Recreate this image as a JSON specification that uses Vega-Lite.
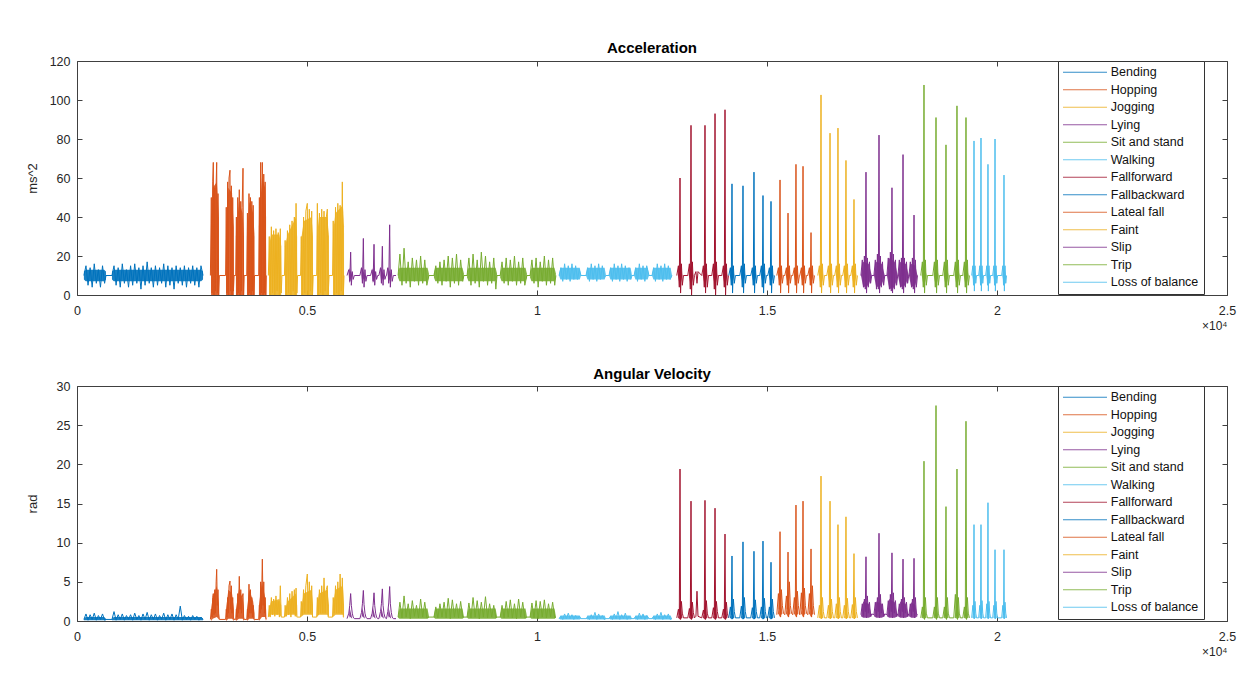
{
  "$schema": "https://vega.github.io/schema/vega-lite/v6.json",
  "background": "white",
  "padding": {"left": 25, "top": 40, "right": 5, "bottom": 5},
  "spacing": 91,
  "bounds": "flush",
  "datasets": {"env": [
    {"c":"Bending","g":"b1","x":150,"lo":8,"hi":12,"wlo":0.1,"whi":0.3},{"c":"Bending","g":"b1","x":190,"lo":7,"hi":13,"wlo":0.1,"whi":0.5},{"c":"Bending","g":"b1","x":590,"lo":7,"hi":13,"wlo":0.1,"whi":0.5},{"c":"Bending","g":"b1","x":630,"lo":8,"hi":12,"wlo":0.1,"whi":0.3},
    {"c":"Bending","g":"b2","x":760,"lo":8,"hi":12,"wlo":0.1,"whi":0.3},{"c":"Bending","g":"b2","x":800,"lo":7,"hi":13,"wlo":0.1,"whi":0.5},{"c":"Bending","g":"b2","x":2700,"lo":7,"hi":13,"wlo":0.1,"whi":0.5},{"c":"Bending","g":"b2","x":2740,"lo":8,"hi":12,"wlo":0.1,"whi":0.3},
    {"c":"Hopping","g":"h1","x":2915,"lo":0,"hi":30,"wlo":0,"whi":1.5},{"c":"Hopping","g":"h1","x":2950,"lo":0,"hi":55,"wlo":0.3,"whi":3},{"c":"Hopping","g":"h1","x":3040,"lo":0,"hi":58,"wlo":0.5,"whi":4.5},{"c":"Hopping","g":"h1","x":3085,"lo":0,"hi":40,"wlo":0.2,"whi":2},
    {"c":"Hopping","g":"h2","x":3240,"lo":0,"hi":30,"wlo":0,"whi":1.5},{"c":"Hopping","g":"h2","x":3290,"lo":0,"hi":55,"wlo":0.3,"whi":4},{"c":"Hopping","g":"h2","x":3370,"lo":0,"hi":52,"wlo":0.3,"whi":3.5},{"c":"Hopping","g":"h2","x":3410,"lo":0,"hi":35,"wlo":0,"whi":1.5},
    {"c":"Hopping","g":"h3","x":3455,"lo":0,"hi":30,"wlo":0,"whi":1.5},{"c":"Hopping","g":"h3","x":3520,"lo":0,"hi":48,"wlo":0.3,"whi":4},{"c":"Hopping","g":"h3","x":3600,"lo":0,"hi":42,"wlo":0.3,"whi":3},{"c":"Hopping","g":"h3","x":3630,"lo":0,"hi":30,"wlo":0,"whi":1.5},
    {"c":"Hopping","g":"h4","x":3695,"lo":0,"hi":30,"wlo":0,"whi":1.5},{"c":"Hopping","g":"h4","x":3745,"lo":0,"hi":48,"wlo":0.3,"whi":4},{"c":"Hopping","g":"h4","x":3830,"lo":0,"hi":42,"wlo":0.3,"whi":2.5},{"c":"Hopping","g":"h4","x":3860,"lo":0,"hi":30,"wlo":0,"whi":1},
    {"c":"Hopping","g":"h5","x":3955,"lo":0,"hi":35,"wlo":0,"whi":2},{"c":"Hopping","g":"h5","x":4020,"lo":0,"hi":60,"wlo":0.5,"whi":5},{"c":"Hopping","g":"h5","x":4090,"lo":0,"hi":55,"wlo":0.5,"whi":3},{"c":"Hopping","g":"h5","x":4110,"lo":0,"hi":40,"wlo":0,"whi":1.5},
    {"c":"Jogging","g":"j1","x":4175,"lo":0,"hi":25,"wlo":0.5,"whi":1.5},{"c":"Jogging","g":"j1","x":4220,"lo":0,"hi":31,"wlo":0.8,"whi":2.5},{"c":"Jogging","g":"j1","x":4400,"lo":0,"hi":31,"wlo":0.8,"whi":2.8},{"c":"Jogging","g":"j1","x":4440,"lo":0,"hi":25,"wlo":0.5,"whi":2},
    {"c":"Jogging","g":"j2","x":4522,"lo":0,"hi":25,"wlo":0.5,"whi":1.5},{"c":"Jogging","g":"j2","x":4580,"lo":0,"hi":31,"wlo":0.8,"whi":2.5},{"c":"Jogging","g":"j2","x":4760,"lo":0,"hi":40,"wlo":0.8,"whi":3.5},{"c":"Jogging","g":"j2","x":4785,"lo":0,"hi":30,"wlo":0.5,"whi":2},
    {"c":"Jogging","g":"j3","x":4870,"lo":0,"hi":28,"wlo":0.5,"whi":1.5},{"c":"Jogging","g":"j3","x":4930,"lo":0,"hi":38,"wlo":0.8,"whi":3.5},{"c":"Jogging","g":"j3","x":5100,"lo":0,"hi":40,"wlo":0.8,"whi":4},{"c":"Jogging","g":"j3","x":5130,"lo":0,"hi":30,"wlo":0.5,"whi":2},
    {"c":"Jogging","g":"j4","x":5217,"lo":0,"hi":30,"wlo":0.5,"whi":2},{"c":"Jogging","g":"j4","x":5260,"lo":0,"hi":40,"wlo":0.8,"whi":3.5},{"c":"Jogging","g":"j4","x":5440,"lo":0,"hi":40,"wlo":0.8,"whi":4},{"c":"Jogging","g":"j4","x":5478,"lo":0,"hi":30,"wlo":0.5,"whi":2},
    {"c":"Jogging","g":"j5","x":5565,"lo":0,"hi":32,"wlo":0.5,"whi":2},{"c":"Jogging","g":"j5","x":5620,"lo":0,"hi":42,"wlo":0.8,"whi":4},{"c":"Jogging","g":"j5","x":5780,"lo":0,"hi":46,"wlo":0.8,"whi":4.5},{"c":"Jogging","g":"j5","x":5805,"lo":0,"hi":35,"wlo":0.5,"whi":2},
    {"c":"Lying","g":"y1","x":5914,"lo":10,"hi":10,"wlo":0.3,"whi":0.3},{"c":"Lying","g":"y1","x":5924,"lo":6,"hi":14,"wlo":0.6,"whi":1.8},{"c":"Lying","g":"y1","x":5984,"lo":10,"hi":10,"wlo":0.3,"whi":0.3},
    {"c":"Lying","g":"y2","x":6190,"lo":10,"hi":10,"wlo":0.3,"whi":0.3},{"c":"Lying","g":"y2","x":6200,"lo":6,"hi":14,"wlo":0.6,"whi":1.8},{"c":"Lying","g":"y2","x":6260,"lo":10,"hi":10,"wlo":0.3,"whi":0.3},
    {"c":"Lying","g":"y3","x":6422,"lo":10,"hi":10,"wlo":0.3,"whi":0.3},{"c":"Lying","g":"y3","x":6432,"lo":6,"hi":14,"wlo":0.6,"whi":1.8},{"c":"Lying","g":"y3","x":6492,"lo":10,"hi":10,"wlo":0.3,"whi":0.3},
    {"c":"Lying","g":"y4","x":6603,"lo":10,"hi":10,"wlo":0.3,"whi":0.3},{"c":"Lying","g":"y4","x":6613,"lo":6,"hi":14,"wlo":0.6,"whi":1.8},{"c":"Lying","g":"y4","x":6673,"lo":10,"hi":10,"wlo":0.3,"whi":0.3},
    {"c":"Lying","g":"y5","x":6762,"lo":10,"hi":10,"wlo":0.3,"whi":0.3},{"c":"Lying","g":"y5","x":6772,"lo":6,"hi":14,"wlo":0.6,"whi":1.8},{"c":"Lying","g":"y5","x":6832,"lo":10,"hi":10,"wlo":0.3,"whi":0.3},
    {"c":"Sit and stand","g":"s1","x":6980,"lo":9,"hi":11,"wlo":0.4,"whi":0.6},{"c":"Sit and stand","g":"s1","x":7010,"lo":7,"hi":14,"wlo":0.3,"whi":1.6},{"c":"Sit and stand","g":"s1","x":7620,"lo":7,"hi":14,"wlo":0.3,"whi":1.6},{"c":"Sit and stand","g":"s1","x":7650,"lo":9,"hi":11,"wlo":0.4,"whi":0.6},
    {"c":"Sit and stand","g":"s2","x":7760,"lo":9,"hi":11,"wlo":0.4,"whi":0.6},{"c":"Sit and stand","g":"s2","x":7790,"lo":7,"hi":14,"wlo":0.3,"whi":1.6},{"c":"Sit and stand","g":"s2","x":8380,"lo":7,"hi":14,"wlo":0.3,"whi":1.6},{"c":"Sit and stand","g":"s2","x":8410,"lo":9,"hi":11,"wlo":0.4,"whi":0.6},
    {"c":"Sit and stand","g":"s3","x":8480,"lo":9,"hi":11,"wlo":0.4,"whi":0.6},{"c":"Sit and stand","g":"s3","x":8510,"lo":7,"hi":14,"wlo":0.3,"whi":1.6},{"c":"Sit and stand","g":"s3","x":9100,"lo":7,"hi":14,"wlo":0.3,"whi":1.6},{"c":"Sit and stand","g":"s3","x":9130,"lo":9,"hi":11,"wlo":0.4,"whi":0.6},
    {"c":"Sit and stand","g":"s4","x":9200,"lo":9,"hi":11,"wlo":0.4,"whi":0.6},{"c":"Sit and stand","g":"s4","x":9230,"lo":7,"hi":14,"wlo":0.3,"whi":1.6},{"c":"Sit and stand","g":"s4","x":9750,"lo":7,"hi":14,"wlo":0.3,"whi":1.6},{"c":"Sit and stand","g":"s4","x":9780,"lo":9,"hi":11,"wlo":0.4,"whi":0.6},
    {"c":"Sit and stand","g":"s5","x":9850,"lo":9,"hi":11,"wlo":0.4,"whi":0.6},{"c":"Sit and stand","g":"s5","x":9880,"lo":7,"hi":14,"wlo":0.3,"whi":1.6},{"c":"Sit and stand","g":"s5","x":10380,"lo":7,"hi":14,"wlo":0.3,"whi":1.6},{"c":"Sit and stand","g":"s5","x":10410,"lo":9,"hi":11,"wlo":0.4,"whi":0.6},
    {"c":"Walking","g":"w1","x":10478,"lo":10,"hi":10,"wlo":0.3,"whi":0.3},{"c":"Walking","g":"w1","x":10510,"lo":8,"hi":14,"wlo":0.2,"whi":0.7},{"c":"Walking","g":"w1","x":10930,"lo":8,"hi":14,"wlo":0.2,"whi":0.7},{"c":"Walking","g":"w1","x":10957,"lo":10,"hi":10,"wlo":0.3,"whi":0.3},
    {"c":"Walking","g":"w2","x":11065,"lo":10,"hi":10,"wlo":0.3,"whi":0.3},{"c":"Walking","g":"w2","x":11095,"lo":8,"hi":14,"wlo":0.2,"whi":0.7},{"c":"Walking","g":"w2","x":11470,"lo":8,"hi":14,"wlo":0.2,"whi":0.7},{"c":"Walking","g":"w2","x":11500,"lo":10,"hi":10,"wlo":0.3,"whi":0.3},
    {"c":"Walking","g":"w3","x":11565,"lo":10,"hi":10,"wlo":0.3,"whi":0.3},{"c":"Walking","g":"w3","x":11595,"lo":8,"hi":14,"wlo":0.2,"whi":0.7},{"c":"Walking","g":"w3","x":12035,"lo":8,"hi":14,"wlo":0.2,"whi":0.7},{"c":"Walking","g":"w3","x":12065,"lo":10,"hi":10,"wlo":0.3,"whi":0.3},
    {"c":"Walking","g":"w4","x":12110,"lo":10,"hi":10,"wlo":0.3,"whi":0.3},{"c":"Walking","g":"w4","x":12140,"lo":8,"hi":14,"wlo":0.2,"whi":0.7},{"c":"Walking","g":"w4","x":12405,"lo":8,"hi":14,"wlo":0.2,"whi":0.7},{"c":"Walking","g":"w4","x":12435,"lo":10,"hi":10,"wlo":0.3,"whi":0.3},
    {"c":"Walking","g":"w5","x":12500,"lo":10,"hi":10,"wlo":0.3,"whi":0.3},{"c":"Walking","g":"w5","x":12530,"lo":8,"hi":14,"wlo":0.2,"whi":0.7},{"c":"Walking","g":"w5","x":12905,"lo":8,"hi":14,"wlo":0.2,"whi":0.7},{"c":"Walking","g":"w5","x":12935,"lo":10,"hi":10,"wlo":0.3,"whi":0.3},
    {"c":"Fallforward","g":"f1","x":13064,"lo":10,"hi":10,"wlo":0.4,"whi":0.4},{"c":"Fallforward","g":"f1","x":13109,"lo":4,"hi":16,"wlo":0.2,"whi":2.5},{"c":"Fallforward","g":"f1","x":13159,"lo":10,"hi":10,"wlo":0.4,"whi":0.4},
    {"c":"Fallforward","g":"f2","x":13303,"lo":10,"hi":10,"wlo":0.4,"whi":0.4},{"c":"Fallforward","g":"f2","x":13348,"lo":4,"hi":16,"wlo":0.2,"whi":2.5},{"c":"Fallforward","g":"f2","x":13398,"lo":10,"hi":10,"wlo":0.4,"whi":0.4},
    {"c":"Fallforward","g":"f3","x":13607,"lo":10,"hi":10,"wlo":0.4,"whi":0.4},{"c":"Fallforward","g":"f3","x":13652,"lo":4,"hi":16,"wlo":0.2,"whi":2.5},{"c":"Fallforward","g":"f3","x":13702,"lo":10,"hi":10,"wlo":0.4,"whi":0.4},
    {"c":"Fallforward","g":"f4","x":13825,"lo":10,"hi":10,"wlo":0.4,"whi":0.4},{"c":"Fallforward","g":"f4","x":13870,"lo":4,"hi":16,"wlo":0.2,"whi":2.5},{"c":"Fallforward","g":"f4","x":13920,"lo":10,"hi":10,"wlo":0.4,"whi":0.4},
    {"c":"Fallforward","g":"f5","x":14042,"lo":10,"hi":10,"wlo":0.4,"whi":0.4},{"c":"Fallforward","g":"f5","x":14087,"lo":4,"hi":16,"wlo":0.2,"whi":2.5},{"c":"Fallforward","g":"f5","x":14137,"lo":10,"hi":10,"wlo":0.4,"whi":0.4},
    {"c":"Fallbackward","g":"k1","x":14194,"lo":10,"hi":10,"wlo":0.4,"whi":0.4},{"c":"Fallbackward","g":"k1","x":14239,"lo":5,"hi":15,"wlo":0.2,"whi":2.5},{"c":"Fallbackward","g":"k1","x":14289,"lo":10,"hi":10,"wlo":0.4,"whi":0.4},
    {"c":"Fallbackward","g":"k2","x":14433,"lo":10,"hi":10,"wlo":0.4,"whi":0.4},{"c":"Fallbackward","g":"k2","x":14478,"lo":5,"hi":15,"wlo":0.2,"whi":2.5},{"c":"Fallbackward","g":"k2","x":14528,"lo":10,"hi":10,"wlo":0.4,"whi":0.4},
    {"c":"Fallbackward","g":"k3","x":14672,"lo":10,"hi":10,"wlo":0.4,"whi":0.4},{"c":"Fallbackward","g":"k3","x":14717,"lo":5,"hi":15,"wlo":0.2,"whi":2.5},{"c":"Fallbackward","g":"k3","x":14767,"lo":10,"hi":10,"wlo":0.4,"whi":0.4},
    {"c":"Fallbackward","g":"k4","x":14868,"lo":10,"hi":10,"wlo":0.4,"whi":0.4},{"c":"Fallbackward","g":"k4","x":14913,"lo":5,"hi":15,"wlo":0.2,"whi":2.5},{"c":"Fallbackward","g":"k4","x":14963,"lo":10,"hi":10,"wlo":0.4,"whi":0.4},
    {"c":"Fallbackward","g":"k5","x":15042,"lo":10,"hi":10,"wlo":0.4,"whi":0.4},{"c":"Fallbackward","g":"k5","x":15087,"lo":5,"hi":15,"wlo":0.2,"whi":2.5},{"c":"Fallbackward","g":"k5","x":15137,"lo":10,"hi":10,"wlo":0.4,"whi":0.4},
    {"c":"Lateal fall","g":"l1","x":15238,"lo":10,"hi":10,"wlo":1.0,"whi":1.0},{"c":"Lateal fall","g":"l1","x":15283,"lo":5,"hi":15,"wlo":0.5,"whi":4},{"c":"Lateal fall","g":"l1","x":15333,"lo":10,"hi":10,"wlo":1.0,"whi":1.0},
    {"c":"Lateal fall","g":"l2","x":15412,"lo":10,"hi":10,"wlo":1.0,"whi":1.0},{"c":"Lateal fall","g":"l2","x":15457,"lo":5,"hi":15,"wlo":0.5,"whi":4},{"c":"Lateal fall","g":"l2","x":15507,"lo":10,"hi":10,"wlo":1.0,"whi":1.0},
    {"c":"Lateal fall","g":"l3","x":15585,"lo":10,"hi":10,"wlo":1.0,"whi":1.0},{"c":"Lateal fall","g":"l3","x":15630,"lo":5,"hi":15,"wlo":0.5,"whi":4},{"c":"Lateal fall","g":"l3","x":15680,"lo":10,"hi":10,"wlo":1.0,"whi":1.0},
    {"c":"Lateal fall","g":"l4","x":15738,"lo":10,"hi":10,"wlo":1.0,"whi":1.0},{"c":"Lateal fall","g":"l4","x":15783,"lo":5,"hi":15,"wlo":0.5,"whi":4},{"c":"Lateal fall","g":"l4","x":15833,"lo":10,"hi":10,"wlo":1.0,"whi":1.0},
    {"c":"Lateal fall","g":"l5","x":15912,"lo":10,"hi":10,"wlo":1.0,"whi":1.0},{"c":"Lateal fall","g":"l5","x":15957,"lo":5,"hi":15,"wlo":0.5,"whi":4},{"c":"Lateal fall","g":"l5","x":16007,"lo":10,"hi":10,"wlo":1.0,"whi":1.0},
    {"c":"Faint","g":"n1","x":16129,"lo":10,"hi":10,"wlo":0.4,"whi":0.4},{"c":"Faint","g":"n1","x":16174,"lo":4,"hi":16,"wlo":0.3,"whi":2.5},{"c":"Faint","g":"n1","x":16224,"lo":10,"hi":10,"wlo":0.4,"whi":0.4},
    {"c":"Faint","g":"n2","x":16325,"lo":10,"hi":10,"wlo":0.4,"whi":0.4},{"c":"Faint","g":"n2","x":16370,"lo":4,"hi":16,"wlo":0.3,"whi":2.5},{"c":"Faint","g":"n2","x":16420,"lo":10,"hi":10,"wlo":0.4,"whi":0.4},
    {"c":"Faint","g":"n3","x":16498,"lo":10,"hi":10,"wlo":0.4,"whi":0.4},{"c":"Faint","g":"n3","x":16543,"lo":4,"hi":16,"wlo":0.3,"whi":2.5},{"c":"Faint","g":"n3","x":16593,"lo":10,"hi":10,"wlo":0.4,"whi":0.4},
    {"c":"Faint","g":"n4","x":16672,"lo":10,"hi":10,"wlo":0.4,"whi":0.4},{"c":"Faint","g":"n4","x":16717,"lo":4,"hi":16,"wlo":0.3,"whi":2.5},{"c":"Faint","g":"n4","x":16767,"lo":10,"hi":10,"wlo":0.4,"whi":0.4},
    {"c":"Faint","g":"n5","x":16846,"lo":10,"hi":10,"wlo":0.4,"whi":0.4},{"c":"Faint","g":"n5","x":16891,"lo":4,"hi":16,"wlo":0.3,"whi":2.5},{"c":"Faint","g":"n5","x":16941,"lo":10,"hi":10,"wlo":0.4,"whi":0.4},
    {"c":"Slip","g":"p1","x":17042,"lo":10,"hi":10,"wlo":0.6,"whi":0.6},{"c":"Slip","g":"p1","x":17092,"lo":4,"hi":17,"wlo":0.4,"whi":2.5},{"c":"Slip","g":"p1","x":17212,"lo":5,"hi":16,"wlo":0.4,"whi":2.2},{"c":"Slip","g":"p1","x":17277,"lo":10,"hi":10,"wlo":0.6,"whi":0.6},
    {"c":"Slip","g":"p2","x":17325,"lo":10,"hi":10,"wlo":0.6,"whi":0.6},{"c":"Slip","g":"p2","x":17375,"lo":4,"hi":17,"wlo":0.4,"whi":2.5},{"c":"Slip","g":"p2","x":17495,"lo":5,"hi":16,"wlo":0.4,"whi":2.2},{"c":"Slip","g":"p2","x":17560,"lo":10,"hi":10,"wlo":0.6,"whi":0.6},
    {"c":"Slip","g":"p3","x":17607,"lo":10,"hi":10,"wlo":0.6,"whi":0.6},{"c":"Slip","g":"p3","x":17657,"lo":3,"hi":19,"wlo":0.4,"whi":2.8},{"c":"Slip","g":"p3","x":17777,"lo":4,"hi":17,"wlo":0.4,"whi":2.4},{"c":"Slip","g":"p3","x":17842,"lo":10,"hi":10,"wlo":0.6,"whi":0.6},
    {"c":"Slip","g":"p4","x":17847,"lo":10,"hi":10,"wlo":0.6,"whi":0.6},{"c":"Slip","g":"p4","x":17897,"lo":4,"hi":17,"wlo":0.4,"whi":2.5},{"c":"Slip","g":"p4","x":18017,"lo":5,"hi":16,"wlo":0.4,"whi":2.2},{"c":"Slip","g":"p4","x":18082,"lo":10,"hi":10,"wlo":0.6,"whi":0.6},
    {"c":"Slip","g":"p5","x":18086,"lo":10,"hi":10,"wlo":0.6,"whi":0.6},{"c":"Slip","g":"p5","x":18136,"lo":4,"hi":16,"wlo":0.4,"whi":2.4},{"c":"Slip","g":"p5","x":18226,"lo":5,"hi":15,"wlo":0.4,"whi":2.0},{"c":"Slip","g":"p5","x":18271,"lo":10,"hi":10,"wlo":0.6,"whi":0.6},
    {"c":"Trip","g":"t1","x":18363,"lo":10,"hi":10,"wlo":0.4,"whi":0.4},{"c":"Trip","g":"t1","x":18413,"lo":4,"hi":17,"wlo":0.3,"whi":2.8},{"c":"Trip","g":"t1","x":18468,"lo":10,"hi":10,"wlo":0.4,"whi":0.4},
    {"c":"Trip","g":"t2","x":18624,"lo":10,"hi":10,"wlo":0.4,"whi":0.4},{"c":"Trip","g":"t2","x":18674,"lo":4,"hi":17,"wlo":0.3,"whi":2.8},{"c":"Trip","g":"t2","x":18729,"lo":10,"hi":10,"wlo":0.4,"whi":0.4},
    {"c":"Trip","g":"t3","x":18841,"lo":10,"hi":10,"wlo":0.4,"whi":0.4},{"c":"Trip","g":"t3","x":18891,"lo":4,"hi":17,"wlo":0.3,"whi":2.8},{"c":"Trip","g":"t3","x":18946,"lo":10,"hi":10,"wlo":0.4,"whi":0.4},
    {"c":"Trip","g":"t4","x":19080,"lo":10,"hi":10,"wlo":0.4,"whi":0.4},{"c":"Trip","g":"t4","x":19130,"lo":4,"hi":17,"wlo":0.3,"whi":3.4},{"c":"Trip","g":"t4","x":19185,"lo":10,"hi":10,"wlo":0.4,"whi":0.4},
    {"c":"Trip","g":"t5","x":19276,"lo":10,"hi":10,"wlo":0.4,"whi":0.4},{"c":"Trip","g":"t5","x":19326,"lo":4,"hi":17,"wlo":0.3,"whi":2.8},{"c":"Trip","g":"t5","x":19381,"lo":10,"hi":10,"wlo":0.4,"whi":0.4},
    {"c":"Loss of balance","g":"o1","x":19465,"lo":10,"hi":10,"wlo":0.4,"whi":0.4},{"c":"Loss of balance","g":"o1","x":19500,"lo":5,"hi":15,"wlo":0.3,"whi":2.2},{"c":"Loss of balance","g":"o1","x":19540,"lo":10,"hi":10,"wlo":0.4,"whi":0.4},
    {"c":"Loss of balance","g":"o2","x":19617,"lo":10,"hi":10,"wlo":0.4,"whi":0.4},{"c":"Loss of balance","g":"o2","x":19652,"lo":5,"hi":15,"wlo":0.3,"whi":2.2},{"c":"Loss of balance","g":"o2","x":19692,"lo":10,"hi":10,"wlo":0.4,"whi":0.4},
    {"c":"Loss of balance","g":"o3","x":19769,"lo":10,"hi":10,"wlo":0.4,"whi":0.4},{"c":"Loss of balance","g":"o3","x":19804,"lo":5,"hi":15,"wlo":0.3,"whi":2.2},{"c":"Loss of balance","g":"o3","x":19844,"lo":10,"hi":10,"wlo":0.4,"whi":0.4},
    {"c":"Loss of balance","g":"o4","x":19922,"lo":10,"hi":10,"wlo":0.4,"whi":0.4},{"c":"Loss of balance","g":"o4","x":19957,"lo":5,"hi":15,"wlo":0.3,"whi":2.2},{"c":"Loss of balance","g":"o4","x":19997,"lo":10,"hi":10,"wlo":0.4,"whi":0.4},
    {"c":"Loss of balance","g":"o5","x":20117,"lo":10,"hi":10,"wlo":0.4,"whi":0.4},{"c":"Loss of balance","g":"o5","x":20152,"lo":5,"hi":15,"wlo":0.3,"whi":2.2},{"c":"Loss of balance","g":"o5","x":20192,"lo":10,"hi":10,"wlo":0.4,"whi":0.4}
  ]},
  "data": {"values": [
    {"c":"Bending","x":150,"a":10,"w":0.2},{"c":"Bending","x":195,"a":15,"w":0.9},{"c":"Bending","x":240,"a":5,"w":0.1},{"c":"Bending","x":285,"a":14,"w":0.8},{"c":"Bending","x":330,"a":4,"w":0.2},{"c":"Bending","x":375,"a":16,"w":1.0},{"c":"Bending","x":420,"a":6,"w":0.1},{"c":"Bending","x":465,"a":13,"w":0.7},{"c":"Bending","x":510,"a":4,"w":0.2},{"c":"Bending","x":555,"a":15,"w":0.9},{"c":"Bending","x":600,"a":6,"w":0.1},{"c":"Bending","x":630,"a":10,"w":0.2},
    {"c":"Bending","x":760,"a":10,"w":0.2},{"c":"Bending","x":805,"a":15,"w":1.2},{"c":"Bending","x":850,"a":5,"w":0.1},{"c":"Bending","x":895,"a":14,"w":0.8},{"c":"Bending","x":940,"a":4,"w":0.2},{"c":"Bending","x":985,"a":16,"w":0.9},{"c":"Bending","x":1030,"a":6,"w":0.1},{"c":"Bending","x":1075,"a":13,"w":0.7},{"c":"Bending","x":1120,"a":4,"w":0.2},{"c":"Bending","x":1165,"a":15,"w":0.8},{"c":"Bending","x":1210,"a":5,"w":0.1},{"c":"Bending","x":1255,"a":16,"w":1.0},{"c":"Bending","x":1300,"a":6,"w":0.2},{"c":"Bending","x":1345,"a":14,"w":0.7},{"c":"Bending","x":1390,"a":3,"w":0.1},{"c":"Bending","x":1435,"a":15,"w":0.9},{"c":"Bending","x":1480,"a":5,"w":0.2},{"c":"Bending","x":1525,"a":17,"w":1.1},{"c":"Bending","x":1570,"a":6,"w":0.1},{"c":"Bending","x":1615,"a":14,"w":0.8},{"c":"Bending","x":1660,"a":4,"w":0.2},{"c":"Bending","x":1705,"a":15,"w":0.9},{"c":"Bending","x":1750,"a":5,"w":0.1},{"c":"Bending","x":1795,"a":14,"w":0.7},{"c":"Bending","x":1840,"a":6,"w":0.2},{"c":"Bending","x":1885,"a":16,"w":1.0},{"c":"Bending","x":1930,"a":4,"w":0.1},{"c":"Bending","x":1975,"a":15,"w":0.8},{"c":"Bending","x":2020,"a":5,"w":0.2},{"c":"Bending","x":2065,"a":14,"w":0.9},{"c":"Bending","x":2110,"a":3,"w":0.1},{"c":"Bending","x":2155,"a":15,"w":0.8},{"c":"Bending","x":2200,"a":6,"w":0.2},{"c":"Bending","x":2245,"a":14,"w":1.9},{"c":"Bending","x":2290,"a":5,"w":0.1},{"c":"Bending","x":2335,"a":15,"w":0.7},{"c":"Bending","x":2380,"a":4,"w":0.2},{"c":"Bending","x":2425,"a":14,"w":0.6},{"c":"Bending","x":2470,"a":6,"w":0.1},{"c":"Bending","x":2515,"a":15,"w":0.7},{"c":"Bending","x":2560,"a":5,"w":0.2},{"c":"Bending","x":2605,"a":14,"w":0.6},{"c":"Bending","x":2650,"a":4,"w":0.1},{"c":"Bending","x":2695,"a":15,"w":0.5},{"c":"Bending","x":2740,"a":10,"w":0.2},

    {"c":"Hopping","x":2900,"a":10,"w":0.2},{"c":"Hopping","x":2920,"a":50,"w":1.5},{"c":"Hopping","x":2935,"a":1,"w":0.5},{"c":"Hopping","x":2950,"a":58,"w":3},{"c":"Hopping","x":2963,"a":68,"w":3.5},{"c":"Hopping","x":2978,"a":0,"w":0.8},{"c":"Hopping","x":2995,"a":55,"w":4},{"c":"Hopping","x":3010,"a":2,"w":1},{"c":"Hopping","x":3025,"a":57,"w":5},{"c":"Hopping","x":3037,"a":68,"w":6.6},{"c":"Hopping","x":3050,"a":1,"w":2},{"c":"Hopping","x":3065,"a":52,"w":4},{"c":"Hopping","x":3080,"a":0,"w":1},{"c":"Hopping","x":3095,"a":10,"w":0.2},
    {"c":"Hopping","x":3230,"a":10,"w":0.2},{"c":"Hopping","x":3245,"a":45,"w":1.5},{"c":"Hopping","x":3260,"a":1,"w":0.5},{"c":"Hopping","x":3275,"a":58,"w":3},{"c":"Hopping","x":3290,"a":0,"w":1},{"c":"Hopping","x":3305,"a":60,"w":4.5},{"c":"Hopping","x":3326,"a":64,"w":5.1},{"c":"Hopping","x":3340,"a":2,"w":1.5},{"c":"Hopping","x":3355,"a":56,"w":4.5},{"c":"Hopping","x":3370,"a":0,"w":1},{"c":"Hopping","x":3385,"a":50,"w":3},{"c":"Hopping","x":3400,"a":2,"w":0.5},{"c":"Hopping","x":3415,"a":10,"w":0.2},
    {"c":"Hopping","x":3450,"a":10,"w":0.2},{"c":"Hopping","x":3465,"a":40,"w":1.5},{"c":"Hopping","x":3480,"a":0,"w":0.5},{"c":"Hopping","x":3495,"a":50,"w":3.5},{"c":"Hopping","x":3510,"a":1,"w":1},{"c":"Hopping","x":3528,"a":54,"w":5.7},{"c":"Hopping","x":3545,"a":0,"w":1.5},{"c":"Hopping","x":3560,"a":48,"w":4},{"c":"Hopping","x":3575,"a":2,"w":1},{"c":"Hopping","x":3590,"a":45,"w":3},{"c":"Hopping","x":3609,"a":65,"w":3.5},{"c":"Hopping","x":3622,"a":0,"w":0.5},{"c":"Hopping","x":3635,"a":10,"w":0.2},
    {"c":"Hopping","x":3690,"a":10,"w":0.2},{"c":"Hopping","x":3705,"a":42,"w":1.5},{"c":"Hopping","x":3720,"a":0,"w":0.5},{"c":"Hopping","x":3739,"a":52,"w":4.7},{"c":"Hopping","x":3755,"a":1,"w":1},{"c":"Hopping","x":3770,"a":50,"w":4},{"c":"Hopping","x":3785,"a":0,"w":1},{"c":"Hopping","x":3800,"a":48,"w":3},{"c":"Hopping","x":3815,"a":2,"w":0.5},{"c":"Hopping","x":3830,"a":46,"w":2},{"c":"Hopping","x":3845,"a":0,"w":0.3},{"c":"Hopping","x":3860,"a":10,"w":0.2},
    {"c":"Hopping","x":3950,"a":10,"w":0.2},{"c":"Hopping","x":3965,"a":50,"w":2},{"c":"Hopping","x":3980,"a":0,"w":1},{"c":"Hopping","x":3993,"a":68,"w":5},{"c":"Hopping","x":4008,"a":1,"w":1.5},{"c":"Hopping","x":4029,"a":68,"w":7.9},{"c":"Hopping","x":4045,"a":0,"w":2},{"c":"Hopping","x":4060,"a":62,"w":5},{"c":"Hopping","x":4075,"a":1,"w":1},{"c":"Hopping","x":4090,"a":58,"w":3},{"c":"Hopping","x":4105,"a":0,"w":0.5},{"c":"Hopping","x":4115,"a":10,"w":0.2},

    {"c":"Jogging","x":4160,"a":10,"w":0.5},{"c":"Jogging","x":4180,"a":30,"w":2},{"c":"Jogging","x":4200,"a":0,"w":0.5},{"c":"Jogging","x":4225,"a":35,"w":3},{"c":"Jogging","x":4250,"a":1,"w":0.8},{"c":"Jogging","x":4275,"a":33,"w":2.8},{"c":"Jogging","x":4300,"a":0,"w":0.6},{"c":"Jogging","x":4325,"a":34,"w":3.2},{"c":"Jogging","x":4350,"a":2,"w":0.8},{"c":"Jogging","x":4375,"a":32,"w":2.5},{"c":"Jogging","x":4400,"a":0,"w":0.5},{"c":"Jogging","x":4420,"a":34,"w":4.5},{"c":"Jogging","x":4440,"a":1,"w":0.5},{"c":"Jogging","x":4455,"a":10,"w":0.5},
    {"c":"Jogging","x":4510,"a":10,"w":0.5},{"c":"Jogging","x":4525,"a":28,"w":2},{"c":"Jogging","x":4550,"a":0,"w":0.6},{"c":"Jogging","x":4575,"a":33,"w":3},{"c":"Jogging","x":4600,"a":1,"w":0.8},{"c":"Jogging","x":4625,"a":36,"w":3.5},{"c":"Jogging","x":4650,"a":0,"w":0.5},{"c":"Jogging","x":4675,"a":38,"w":3.8},{"c":"Jogging","x":4700,"a":2,"w":1},{"c":"Jogging","x":4725,"a":40,"w":4},{"c":"Jogging","x":4745,"a":0,"w":0.6},{"c":"Jogging","x":4762,"a":47,"w":4.2},{"c":"Jogging","x":4780,"a":1,"w":0.5},{"c":"Jogging","x":4795,"a":10,"w":0.5},
    {"c":"Jogging","x":4860,"a":10,"w":0.5},{"c":"Jogging","x":4875,"a":30,"w":2.5},{"c":"Jogging","x":4900,"a":0,"w":0.8},{"c":"Jogging","x":4925,"a":40,"w":4},{"c":"Jogging","x":4950,"a":1,"w":1},{"c":"Jogging","x":4975,"a":43,"w":4.5},{"c":"Jogging","x":5007,"a":47,"w":6},{"c":"Jogging","x":5025,"a":0,"w":1},{"c":"Jogging","x":5050,"a":44,"w":5},{"c":"Jogging","x":5075,"a":2,"w":1},{"c":"Jogging","x":5102,"a":43,"w":4.5},{"c":"Jogging","x":5120,"a":0,"w":0.5},{"c":"Jogging","x":5135,"a":10,"w":0.5},
    {"c":"Jogging","x":5210,"a":10,"w":0.5},{"c":"Jogging","x":5225,"a":47,"w":3},{"c":"Jogging","x":5245,"a":0,"w":0.8},{"c":"Jogging","x":5270,"a":42,"w":4},{"c":"Jogging","x":5295,"a":1,"w":1},{"c":"Jogging","x":5320,"a":44,"w":4.5},{"c":"Jogging","x":5345,"a":0,"w":1},{"c":"Jogging","x":5370,"a":43,"w":5.5},{"c":"Jogging","x":5395,"a":2,"w":1},{"c":"Jogging","x":5420,"a":40,"w":4},{"c":"Jogging","x":5442,"a":44,"w":4.5},{"c":"Jogging","x":5460,"a":0,"w":0.5},{"c":"Jogging","x":5480,"a":10,"w":0.5},
    {"c":"Jogging","x":5555,"a":10,"w":0.5},{"c":"Jogging","x":5570,"a":38,"w":3},{"c":"Jogging","x":5595,"a":0,"w":1},{"c":"Jogging","x":5620,"a":45,"w":4.5},{"c":"Jogging","x":5645,"a":1,"w":1},{"c":"Jogging","x":5670,"a":47,"w":5},{"c":"Jogging","x":5695,"a":0,"w":1},{"c":"Jogging","x":5720,"a":46,"w":6},{"c":"Jogging","x":5745,"a":2,"w":1},{"c":"Jogging","x":5768,"a":58,"w":5.5},{"c":"Jogging","x":5790,"a":0,"w":0.5},{"c":"Jogging","x":5805,"a":10,"w":0.5},

    {"c":"Lying","x":5870,"a":10,"w":0.3},{"c":"Lying","x":5909,"a":13,"w":1.0},{"c":"Lying","x":5929,"a":7,"w":2.0},{"c":"Lying","x":5949,"a":22,"w":3.5},{"c":"Lying","x":5964,"a":5,"w":2.0},{"c":"Lying","x":5984,"a":12,"w":1.0},{"c":"Lying","x":6004,"a":8,"w":0.5},{"c":"Lying","x":6029,"a":10,"w":0.3},
    {"c":"Lying","x":6150,"a":10,"w":0.3},{"c":"Lying","x":6185,"a":14,"w":1.1},{"c":"Lying","x":6205,"a":6,"w":2.2},{"c":"Lying","x":6225,"a":29,"w":3.9},{"c":"Lying","x":6240,"a":4,"w":2.1},{"c":"Lying","x":6260,"a":13,"w":1.0},{"c":"Lying","x":6280,"a":7,"w":0.5},{"c":"Lying","x":6305,"a":10,"w":0.3},
    {"c":"Lying","x":6382,"a":10,"w":0.3},{"c":"Lying","x":6417,"a":13,"w":1.0},{"c":"Lying","x":6437,"a":7,"w":2.0},{"c":"Lying","x":6457,"a":26,"w":3.6},{"c":"Lying","x":6472,"a":5,"w":2.0},{"c":"Lying","x":6492,"a":12,"w":1.0},{"c":"Lying","x":6512,"a":8,"w":0.5},{"c":"Lying","x":6537,"a":10,"w":0.3},
    {"c":"Lying","x":6563,"a":10,"w":0.3},{"c":"Lying","x":6598,"a":14,"w":1.2},{"c":"Lying","x":6618,"a":6,"w":2.2},{"c":"Lying","x":6638,"a":25,"w":4.1},{"c":"Lying","x":6653,"a":5,"w":2.0},{"c":"Lying","x":6673,"a":13,"w":1.0},{"c":"Lying","x":6693,"a":8,"w":0.5},{"c":"Lying","x":6718,"a":10,"w":0.3},
    {"c":"Lying","x":6728,"a":10,"w":0.3},{"c":"Lying","x":6757,"a":14,"w":1.2},{"c":"Lying","x":6777,"a":6,"w":2.3},{"c":"Lying","x":6797,"a":36,"w":4.4},{"c":"Lying","x":6812,"a":4,"w":2.2},{"c":"Lying","x":6832,"a":13,"w":1.1},{"c":"Lying","x":6852,"a":7,"w":0.5},{"c":"Lying","x":6877,"a":10,"w":0.3},{"c":"Lying","x":6935,"a":10,"w":0.3},

    {"c":"Sit and stand","x":6980,"a":10,"w":0.5},{"c":"Sit and stand","x":7020,"a":21,"w":2.4},{"c":"Sit and stand","x":7065,"a":5,"w":0.4},{"c":"Sit and stand","x":7110,"a":24,"w":3.2},{"c":"Sit and stand","x":7155,"a":6,"w":0.5},{"c":"Sit and stand","x":7200,"a":17,"w":2.2},{"c":"Sit and stand","x":7245,"a":4,"w":0.3},{"c":"Sit and stand","x":7290,"a":19,"w":2.6},{"c":"Sit and stand","x":7335,"a":7,"w":0.6},{"c":"Sit and stand","x":7380,"a":18,"w":2.0},{"c":"Sit and stand","x":7425,"a":5,"w":0.4},{"c":"Sit and stand","x":7470,"a":20,"w":2.8},{"c":"Sit and stand","x":7515,"a":6,"w":0.5},{"c":"Sit and stand","x":7560,"a":18,"w":2.4},{"c":"Sit and stand","x":7605,"a":5,"w":0.4},{"c":"Sit and stand","x":7650,"a":10,"w":0.5},
    {"c":"Sit and stand","x":7760,"a":10,"w":0.5},{"c":"Sit and stand","x":7800,"a":15,"w":1.8},{"c":"Sit and stand","x":7845,"a":6,"w":0.4},{"c":"Sit and stand","x":7890,"a":17,"w":2.2},{"c":"Sit and stand","x":7935,"a":5,"w":0.5},{"c":"Sit and stand","x":7980,"a":18,"w":2.4},{"c":"Sit and stand","x":8025,"a":7,"w":0.4},{"c":"Sit and stand","x":8070,"a":20,"w":2.9},{"c":"Sit and stand","x":8115,"a":4,"w":0.3},{"c":"Sit and stand","x":8160,"a":19,"w":2.7},{"c":"Sit and stand","x":8205,"a":6,"w":0.5},{"c":"Sit and stand","x":8250,"a":21,"w":2.2},{"c":"Sit and stand","x":8295,"a":5,"w":0.4},{"c":"Sit and stand","x":8340,"a":18,"w":2.5},{"c":"Sit and stand","x":8385,"a":7,"w":0.5},{"c":"Sit and stand","x":8410,"a":10,"w":0.5},
    {"c":"Sit and stand","x":8480,"a":10,"w":0.5},{"c":"Sit and stand","x":8520,"a":19,"w":2.3},{"c":"Sit and stand","x":8565,"a":5,"w":0.4},{"c":"Sit and stand","x":8610,"a":21,"w":3.0},{"c":"Sit and stand","x":8655,"a":6,"w":0.5},{"c":"Sit and stand","x":8700,"a":18,"w":2.6},{"c":"Sit and stand","x":8745,"a":4,"w":0.3},{"c":"Sit and stand","x":8790,"a":22,"w":2.4},{"c":"Sit and stand","x":8835,"a":7,"w":0.5},{"c":"Sit and stand","x":8880,"a":20,"w":3.1},{"c":"Sit and stand","x":8925,"a":5,"w":0.4},{"c":"Sit and stand","x":8970,"a":17,"w":2.2},{"c":"Sit and stand","x":9015,"a":6,"w":0.5},{"c":"Sit and stand","x":9060,"a":19,"w":2.0},{"c":"Sit and stand","x":9105,"a":3,"w":0.4},{"c":"Sit and stand","x":9130,"a":10,"w":0.5},
    {"c":"Sit and stand","x":9200,"a":10,"w":0.5},{"c":"Sit and stand","x":9240,"a":17,"w":2.0},{"c":"Sit and stand","x":9285,"a":6,"w":0.4},{"c":"Sit and stand","x":9330,"a":19,"w":2.5},{"c":"Sit and stand","x":9375,"a":5,"w":0.5},{"c":"Sit and stand","x":9420,"a":18,"w":2.7},{"c":"Sit and stand","x":9465,"a":7,"w":0.4},{"c":"Sit and stand","x":9510,"a":20,"w":2.2},{"c":"Sit and stand","x":9555,"a":5,"w":0.3},{"c":"Sit and stand","x":9600,"a":17,"w":2.8},{"c":"Sit and stand","x":9645,"a":6,"w":0.5},{"c":"Sit and stand","x":9690,"a":19,"w":2.4},{"c":"Sit and stand","x":9735,"a":5,"w":0.4},{"c":"Sit and stand","x":9780,"a":10,"w":0.5},
    {"c":"Sit and stand","x":9850,"a":10,"w":0.5},{"c":"Sit and stand","x":9890,"a":18,"w":2.3},{"c":"Sit and stand","x":9935,"a":6,"w":0.4},{"c":"Sit and stand","x":9980,"a":19,"w":2.6},{"c":"Sit and stand","x":10025,"a":4,"w":0.3},{"c":"Sit and stand","x":10070,"a":17,"w":2.5},{"c":"Sit and stand","x":10115,"a":7,"w":0.5},{"c":"Sit and stand","x":10160,"a":20,"w":2.7},{"c":"Sit and stand","x":10205,"a":5,"w":0.4},{"c":"Sit and stand","x":10250,"a":18,"w":2.2},{"c":"Sit and stand","x":10295,"a":6,"w":0.5},{"c":"Sit and stand","x":10340,"a":19,"w":2.4},{"c":"Sit and stand","x":10385,"a":5,"w":0.4},{"c":"Sit and stand","x":10410,"a":10,"w":0.5},

    {"c":"Walking","x":10480,"a":10,"w":0.3},{"c":"Walking","x":10520,"a":14,"w":0.6},{"c":"Walking","x":10560,"a":7,"w":0.2},{"c":"Walking","x":10600,"a":16,"w":0.9},{"c":"Walking","x":10640,"a":8,"w":0.3},{"c":"Walking","x":10680,"a":15,"w":1.0},{"c":"Walking","x":10720,"a":7,"w":0.3},{"c":"Walking","x":10760,"a":16,"w":0.8},{"c":"Walking","x":10800,"a":8,"w":0.2},{"c":"Walking","x":10840,"a":15,"w":0.7},{"c":"Walking","x":10880,"a":8,"w":0.3},{"c":"Walking","x":10920,"a":13,"w":0.6},{"c":"Walking","x":10957,"a":10,"w":0.3},
    {"c":"Walking","x":11065,"a":10,"w":0.3},{"c":"Walking","x":11100,"a":14,"w":0.5},{"c":"Walking","x":11140,"a":7,"w":0.2},{"c":"Walking","x":11180,"a":16,"w":0.8},{"c":"Walking","x":11220,"a":8,"w":0.3},{"c":"Walking","x":11260,"a":15,"w":1.1},{"c":"Walking","x":11300,"a":7,"w":0.2},{"c":"Walking","x":11340,"a":16,"w":0.9},{"c":"Walking","x":11380,"a":8,"w":0.3},{"c":"Walking","x":11420,"a":15,"w":0.7},{"c":"Walking","x":11460,"a":9,"w":0.2},{"c":"Walking","x":11500,"a":10,"w":0.3},
    {"c":"Walking","x":11565,"a":10,"w":0.3},{"c":"Walking","x":11600,"a":14,"w":0.6},{"c":"Walking","x":11640,"a":7,"w":0.2},{"c":"Walking","x":11680,"a":16,"w":0.9},{"c":"Walking","x":11720,"a":8,"w":0.3},{"c":"Walking","x":11760,"a":15,"w":1.2},{"c":"Walking","x":11800,"a":7,"w":0.2},{"c":"Walking","x":11840,"a":16,"w":0.8},{"c":"Walking","x":11880,"a":8,"w":0.3},{"c":"Walking","x":11920,"a":15,"w":1.0},{"c":"Walking","x":11960,"a":7,"w":0.2},{"c":"Walking","x":12000,"a":14,"w":0.6},{"c":"Walking","x":12040,"a":8,"w":0.3},{"c":"Walking","x":12065,"a":10,"w":0.3},
    {"c":"Walking","x":12110,"a":10,"w":0.3},{"c":"Walking","x":12145,"a":14,"w":0.6},{"c":"Walking","x":12185,"a":7,"w":0.2},{"c":"Walking","x":12225,"a":16,"w":1.0},{"c":"Walking","x":12265,"a":8,"w":0.3},{"c":"Walking","x":12305,"a":15,"w":0.9},{"c":"Walking","x":12345,"a":7,"w":0.2},{"c":"Walking","x":12385,"a":15,"w":0.7},{"c":"Walking","x":12435,"a":10,"w":0.3},
    {"c":"Walking","x":12500,"a":10,"w":0.3},{"c":"Walking","x":12535,"a":14,"w":0.6},{"c":"Walking","x":12575,"a":7,"w":0.2},{"c":"Walking","x":12615,"a":16,"w":0.9},{"c":"Walking","x":12655,"a":8,"w":0.3},{"c":"Walking","x":12695,"a":15,"w":1.1},{"c":"Walking","x":12735,"a":7,"w":0.2},{"c":"Walking","x":12775,"a":16,"w":0.8},{"c":"Walking","x":12815,"a":8,"w":0.3},{"c":"Walking","x":12855,"a":15,"w":0.9},{"c":"Walking","x":12895,"a":8,"w":0.2},{"c":"Walking","x":12935,"a":10,"w":0.3},

    {"c":"Fallforward","x":13039,"a":10,"w":0.4},{"c":"Fallforward","x":13074,"a":15,"w":1.5},{"c":"Fallforward","x":13094,"a":4,"w":0.8},{"c":"Fallforward","x":13109,"a":60,"w":19.4},{"c":"Fallforward","x":13121,"a":1,"w":0.2},{"c":"Fallforward","x":13139,"a":16,"w":2.5},{"c":"Fallforward","x":13159,"a":5,"w":1.0},{"c":"Fallforward","x":13184,"a":10,"w":0.4},
    {"c":"Fallforward","x":13278,"a":10,"w":0.4},{"c":"Fallforward","x":13313,"a":16,"w":1.6},{"c":"Fallforward","x":13333,"a":3,"w":0.7},{"c":"Fallforward","x":13348,"a":87,"w":15.3},{"c":"Fallforward","x":13360,"a":0,"w":0.2},{"c":"Fallforward","x":13378,"a":17,"w":2.4},{"c":"Fallforward","x":13398,"a":5,"w":1.1},{"c":"Fallforward","x":13423,"a":10,"w":0.4},
    {"c":"Fallforward","x":13455,"a":12,"w":0.6},{"c":"Fallforward","x":13478,"a":6,"w":3.8},{"c":"Fallforward","x":13500,"a":12,"w":0.6},
    {"c":"Fallforward","x":13582,"a":10,"w":0.4},{"c":"Fallforward","x":13617,"a":15,"w":1.4},{"c":"Fallforward","x":13637,"a":4,"w":0.9},{"c":"Fallforward","x":13652,"a":87,"w":15.4},{"c":"Fallforward","x":13664,"a":1,"w":0.2},{"c":"Fallforward","x":13682,"a":16,"w":2.6},{"c":"Fallforward","x":13702,"a":4,"w":1.0},{"c":"Fallforward","x":13727,"a":10,"w":0.4},
    {"c":"Fallforward","x":13800,"a":10,"w":0.4},{"c":"Fallforward","x":13835,"a":16,"w":1.7},{"c":"Fallforward","x":13855,"a":3,"w":0.8},{"c":"Fallforward","x":13870,"a":93,"w":14.4},{"c":"Fallforward","x":13882,"a":0,"w":0.2},{"c":"Fallforward","x":13900,"a":17,"w":2.5},{"c":"Fallforward","x":13920,"a":5,"w":1.2},{"c":"Fallforward","x":13945,"a":10,"w":0.4},
    {"c":"Fallforward","x":14017,"a":10,"w":0.4},{"c":"Fallforward","x":14052,"a":15,"w":1.5},{"c":"Fallforward","x":14072,"a":4,"w":0.8},{"c":"Fallforward","x":14087,"a":95,"w":11.1},{"c":"Fallforward","x":14099,"a":0,"w":0.2},{"c":"Fallforward","x":14117,"a":16,"w":2.4},{"c":"Fallforward","x":14137,"a":5,"w":1.0},{"c":"Fallforward","x":14162,"a":10,"w":0.4},

    {"c":"Fallbackward","x":14169,"a":10,"w":0.4},{"c":"Fallbackward","x":14204,"a":14,"w":1.8},{"c":"Fallbackward","x":14224,"a":5,"w":0.8},{"c":"Fallbackward","x":14239,"a":57,"w":8.3},{"c":"Fallbackward","x":14251,"a":1,"w":0.3},{"c":"Fallbackward","x":14269,"a":15,"w":2.8},{"c":"Fallbackward","x":14289,"a":6,"w":1.2},{"c":"Fallbackward","x":14314,"a":10,"w":0.4},
    {"c":"Fallbackward","x":14408,"a":10,"w":0.4},{"c":"Fallbackward","x":14443,"a":15,"w":1.9},{"c":"Fallbackward","x":14463,"a":4,"w":0.8},{"c":"Fallbackward","x":14478,"a":56,"w":10.1},{"c":"Fallbackward","x":14490,"a":1,"w":0.3},{"c":"Fallbackward","x":14508,"a":16,"w":3.0},{"c":"Fallbackward","x":14528,"a":6,"w":1.2},{"c":"Fallbackward","x":14553,"a":10,"w":0.4},
    {"c":"Fallbackward","x":14647,"a":10,"w":0.4},{"c":"Fallbackward","x":14682,"a":14,"w":1.7},{"c":"Fallbackward","x":14702,"a":5,"w":0.8},{"c":"Fallbackward","x":14717,"a":63,"w":8.9},{"c":"Fallbackward","x":14729,"a":1,"w":0.3},{"c":"Fallbackward","x":14747,"a":15,"w":2.7},{"c":"Fallbackward","x":14767,"a":6,"w":1.2},{"c":"Fallbackward","x":14792,"a":10,"w":0.4},
    {"c":"Fallbackward","x":14843,"a":10,"w":0.4},{"c":"Fallbackward","x":14878,"a":15,"w":1.8},{"c":"Fallbackward","x":14898,"a":4,"w":0.9},{"c":"Fallbackward","x":14913,"a":51,"w":10.2},{"c":"Fallbackward","x":14925,"a":1,"w":0.3},{"c":"Fallbackward","x":14943,"a":16,"w":2.9},{"c":"Fallbackward","x":14963,"a":6,"w":1.2},{"c":"Fallbackward","x":14988,"a":10,"w":0.4},
    {"c":"Fallbackward","x":15017,"a":10,"w":0.4},{"c":"Fallbackward","x":15052,"a":14,"w":1.8},{"c":"Fallbackward","x":15072,"a":5,"w":0.8},{"c":"Fallbackward","x":15087,"a":48,"w":7.5},{"c":"Fallbackward","x":15099,"a":1,"w":0.3},{"c":"Fallbackward","x":15117,"a":15,"w":2.8},{"c":"Fallbackward","x":15137,"a":6,"w":1.2},{"c":"Fallbackward","x":15162,"a":10,"w":0.4},

    {"c":"Lateal fall","x":15213,"a":10,"w":0.8},{"c":"Lateal fall","x":15248,"a":14,"w":3.5},{"c":"Lateal fall","x":15268,"a":5,"w":1.5},{"c":"Lateal fall","x":15283,"a":59,"w":11.4},{"c":"Lateal fall","x":15295,"a":1,"w":0.5},{"c":"Lateal fall","x":15313,"a":15,"w":4.0},{"c":"Lateal fall","x":15333,"a":6,"w":2.0},{"c":"Lateal fall","x":15358,"a":10,"w":1.0},
    {"c":"Lateal fall","x":15387,"a":10,"w":0.8},{"c":"Lateal fall","x":15422,"a":14,"w":3.2},{"c":"Lateal fall","x":15442,"a":5,"w":1.5},{"c":"Lateal fall","x":15457,"a":42,"w":8.8},{"c":"Lateal fall","x":15469,"a":1,"w":0.5},{"c":"Lateal fall","x":15487,"a":15,"w":5.0},{"c":"Lateal fall","x":15507,"a":6,"w":2.0},{"c":"Lateal fall","x":15532,"a":10,"w":1.0},
    {"c":"Lateal fall","x":15560,"a":10,"w":0.8},{"c":"Lateal fall","x":15595,"a":14,"w":3.0},{"c":"Lateal fall","x":15615,"a":5,"w":1.5},{"c":"Lateal fall","x":15630,"a":67,"w":14.8},{"c":"Lateal fall","x":15642,"a":1,"w":0.5},{"c":"Lateal fall","x":15660,"a":15,"w":3.8},{"c":"Lateal fall","x":15680,"a":6,"w":2.0},{"c":"Lateal fall","x":15705,"a":10,"w":1.0},
    {"c":"Lateal fall","x":15713,"a":10,"w":0.8},{"c":"Lateal fall","x":15748,"a":14,"w":3.6},{"c":"Lateal fall","x":15768,"a":5,"w":1.5},{"c":"Lateal fall","x":15783,"a":66,"w":15.3},{"c":"Lateal fall","x":15795,"a":1,"w":0.5},{"c":"Lateal fall","x":15813,"a":15,"w":4.2},{"c":"Lateal fall","x":15833,"a":6,"w":2.0},{"c":"Lateal fall","x":15858,"a":10,"w":1.0},
    {"c":"Lateal fall","x":15887,"a":10,"w":0.8},{"c":"Lateal fall","x":15922,"a":14,"w":3.5},{"c":"Lateal fall","x":15942,"a":5,"w":1.5},{"c":"Lateal fall","x":15957,"a":32,"w":9.2},{"c":"Lateal fall","x":15969,"a":1,"w":0.5},{"c":"Lateal fall","x":15987,"a":15,"w":4.5},{"c":"Lateal fall","x":16007,"a":6,"w":2.0},{"c":"Lateal fall","x":16032,"a":10,"w":0.8},

    {"c":"Faint","x":16104,"a":10,"w":0.4},{"c":"Faint","x":16139,"a":15,"w":2.0},{"c":"Faint","x":16159,"a":4,"w":0.8},{"c":"Faint","x":16174,"a":102.6,"w":18.5},{"c":"Faint","x":16186,"a":1,"w":0.3},{"c":"Faint","x":16204,"a":16,"w":3.0},{"c":"Faint","x":16224,"a":5,"w":1.2},{"c":"Faint","x":16249,"a":10,"w":0.4},
    {"c":"Faint","x":16300,"a":10,"w":0.4},{"c":"Faint","x":16335,"a":15,"w":2.0},{"c":"Faint","x":16355,"a":4,"w":0.8},{"c":"Faint","x":16370,"a":83,"w":15.3},{"c":"Faint","x":16382,"a":1,"w":0.3},{"c":"Faint","x":16400,"a":16,"w":2.8},{"c":"Faint","x":16420,"a":5,"w":1.2},{"c":"Faint","x":16445,"a":10,"w":0.4},
    {"c":"Faint","x":16473,"a":10,"w":0.4},{"c":"Faint","x":16508,"a":15,"w":2.2},{"c":"Faint","x":16528,"a":4,"w":0.8},{"c":"Faint","x":16543,"a":85.6,"w":12.3},{"c":"Faint","x":16555,"a":1,"w":0.3},{"c":"Faint","x":16573,"a":16,"w":3.0},{"c":"Faint","x":16593,"a":5,"w":1.2},{"c":"Faint","x":16618,"a":10,"w":0.4},
    {"c":"Faint","x":16647,"a":10,"w":0.4},{"c":"Faint","x":16682,"a":15,"w":2.0},{"c":"Faint","x":16702,"a":4,"w":0.8},{"c":"Faint","x":16717,"a":69,"w":13.3},{"c":"Faint","x":16729,"a":1,"w":0.3},{"c":"Faint","x":16747,"a":16,"w":2.9},{"c":"Faint","x":16767,"a":5,"w":1.2},{"c":"Faint","x":16792,"a":10,"w":0.4},
    {"c":"Faint","x":16821,"a":10,"w":0.4},{"c":"Faint","x":16856,"a":15,"w":2.1},{"c":"Faint","x":16876,"a":4,"w":0.8},{"c":"Faint","x":16891,"a":49,"w":8.6},{"c":"Faint","x":16903,"a":1,"w":0.3},{"c":"Faint","x":16921,"a":16,"w":3.0},{"c":"Faint","x":16941,"a":5,"w":1.2},{"c":"Faint","x":16966,"a":10,"w":0.4},

    {"c":"Slip","x":17042,"a":10,"w":0.8},{"c":"Slip","x":17072,"a":18,"w":2.2},{"c":"Slip","x":17097,"a":4,"w":0.6},{"c":"Slip","x":17117,"a":20,"w":2.8},{"c":"Slip","x":17137,"a":3,"w":1.2},{"c":"Slip","x":17152,"a":63,"w":8.2},{"c":"Slip","x":17164,"a":1,"w":0.4},{"c":"Slip","x":17182,"a":19,"w":3.2},{"c":"Slip","x":17202,"a":4,"w":1.0},{"c":"Slip","x":17227,"a":17,"w":2.4},{"c":"Slip","x":17252,"a":6,"w":0.6},{"c":"Slip","x":17277,"a":10,"w":0.9},
    {"c":"Slip","x":17325,"a":10,"w":0.8},{"c":"Slip","x":17355,"a":18,"w":2.4},{"c":"Slip","x":17380,"a":3,"w":0.6},{"c":"Slip","x":17400,"a":21,"w":3.0},{"c":"Slip","x":17420,"a":3,"w":1.2},{"c":"Slip","x":17435,"a":82,"w":11.2},{"c":"Slip","x":17447,"a":1,"w":0.4},{"c":"Slip","x":17465,"a":20,"w":3.4},{"c":"Slip","x":17485,"a":4,"w":1.0},{"c":"Slip","x":17510,"a":17,"w":2.2},{"c":"Slip","x":17535,"a":5,"w":0.6},{"c":"Slip","x":17560,"a":10,"w":0.9},
    {"c":"Slip","x":17607,"a":10,"w":0.8},{"c":"Slip","x":17637,"a":19,"w":2.6},{"c":"Slip","x":17662,"a":3,"w":0.6},{"c":"Slip","x":17682,"a":22,"w":3.4},{"c":"Slip","x":17702,"a":2,"w":1.2},{"c":"Slip","x":17717,"a":55,"w":8.7},{"c":"Slip","x":17729,"a":1,"w":0.4},{"c":"Slip","x":17747,"a":21,"w":3.6},{"c":"Slip","x":17767,"a":3,"w":1.0},{"c":"Slip","x":17792,"a":18,"w":2.6},{"c":"Slip","x":17817,"a":5,"w":0.6},{"c":"Slip","x":17842,"a":10,"w":0.9},
    {"c":"Slip","x":17847,"a":10,"w":0.8},{"c":"Slip","x":17877,"a":18,"w":2.2},{"c":"Slip","x":17902,"a":4,"w":0.6},{"c":"Slip","x":17922,"a":19,"w":2.8},{"c":"Slip","x":17942,"a":3,"w":1.2},{"c":"Slip","x":17957,"a":72,"w":7.9},{"c":"Slip","x":17969,"a":1,"w":0.4},{"c":"Slip","x":17987,"a":19,"w":3.0},{"c":"Slip","x":18007,"a":4,"w":1.0},{"c":"Slip","x":18032,"a":17,"w":2.4},{"c":"Slip","x":18057,"a":6,"w":0.6},{"c":"Slip","x":18082,"a":10,"w":0.9},
    {"c":"Slip","x":18086,"a":10,"w":0.8},{"c":"Slip","x":18116,"a":17,"w":2.2},{"c":"Slip","x":18141,"a":4,"w":0.6},{"c":"Slip","x":18161,"a":19,"w":2.8},{"c":"Slip","x":18181,"a":3,"w":1.2},{"c":"Slip","x":18196,"a":41,"w":8.0},{"c":"Slip","x":18208,"a":1,"w":0.4},{"c":"Slip","x":18226,"a":18,"w":3.0},{"c":"Slip","x":18246,"a":4,"w":1.0},{"c":"Slip","x":18271,"a":10,"w":0.8},

    {"c":"Trip","x":18343,"a":10,"w":0.4},{"c":"Trip","x":18378,"a":17,"w":1.8},{"c":"Trip","x":18398,"a":4,"w":0.6},{"c":"Trip","x":18413,"a":107.7,"w":20.4},{"c":"Trip","x":18425,"a":1,"w":0.2},{"c":"Trip","x":18443,"a":18,"w":3.0},{"c":"Trip","x":18463,"a":5,"w":1.0},{"c":"Trip","x":18488,"a":10,"w":0.4},
    {"c":"Trip","x":18604,"a":10,"w":0.4},{"c":"Trip","x":18639,"a":17,"w":1.8},{"c":"Trip","x":18659,"a":4,"w":0.6},{"c":"Trip","x":18674,"a":91,"w":27.5},{"c":"Trip","x":18686,"a":1,"w":0.2},{"c":"Trip","x":18704,"a":18,"w":3.0},{"c":"Trip","x":18724,"a":5,"w":1.0},{"c":"Trip","x":18749,"a":10,"w":0.4},
    {"c":"Trip","x":18821,"a":10,"w":0.4},{"c":"Trip","x":18856,"a":17,"w":1.8},{"c":"Trip","x":18876,"a":4,"w":0.6},{"c":"Trip","x":18891,"a":77,"w":14.6},{"c":"Trip","x":18903,"a":1,"w":0.2},{"c":"Trip","x":18921,"a":18,"w":3.0},{"c":"Trip","x":18941,"a":5,"w":1.0},{"c":"Trip","x":18966,"a":10,"w":0.4},
    {"c":"Trip","x":19060,"a":10,"w":0.4},{"c":"Trip","x":19095,"a":17,"w":3.4},{"c":"Trip","x":19115,"a":4,"w":0.6},{"c":"Trip","x":19130,"a":97,"w":19.4},{"c":"Trip","x":19142,"a":1,"w":0.2},{"c":"Trip","x":19160,"a":18,"w":3.0},{"c":"Trip","x":19180,"a":5,"w":1.0},{"c":"Trip","x":19205,"a":10,"w":0.4},
    {"c":"Trip","x":19256,"a":10,"w":0.4},{"c":"Trip","x":19291,"a":17,"w":1.8},{"c":"Trip","x":19311,"a":4,"w":0.6},{"c":"Trip","x":19326,"a":91,"w":25.5},{"c":"Trip","x":19338,"a":1,"w":0.2},{"c":"Trip","x":19356,"a":18,"w":3.0},{"c":"Trip","x":19376,"a":5,"w":1.0},{"c":"Trip","x":19401,"a":10,"w":0.4},

    {"c":"Loss of balance","x":19450,"a":10,"w":0.4},{"c":"Loss of balance","x":19475,"a":15,"w":2.0},{"c":"Loss of balance","x":19490,"a":5,"w":0.8},{"c":"Loss of balance","x":19500,"a":79,"w":12.3},{"c":"Loss of balance","x":19508,"a":2,"w":0.3},{"c":"Loss of balance","x":19522,"a":15,"w":2.5},{"c":"Loss of balance","x":19538,"a":6,"w":1.0},{"c":"Loss of balance","x":19555,"a":10,"w":0.4},
    {"c":"Loss of balance","x":19602,"a":10,"w":0.4},{"c":"Loss of balance","x":19627,"a":15,"w":2.0},{"c":"Loss of balance","x":19642,"a":5,"w":0.8},{"c":"Loss of balance","x":19652,"a":80.5,"w":12.3},{"c":"Loss of balance","x":19660,"a":2,"w":0.3},{"c":"Loss of balance","x":19674,"a":15,"w":2.6},{"c":"Loss of balance","x":19690,"a":6,"w":1.0},{"c":"Loss of balance","x":19707,"a":10,"w":0.4},
    {"c":"Loss of balance","x":19754,"a":10,"w":0.4},{"c":"Loss of balance","x":19779,"a":15,"w":2.2},{"c":"Loss of balance","x":19794,"a":5,"w":0.8},{"c":"Loss of balance","x":19804,"a":67,"w":15.1},{"c":"Loss of balance","x":19812,"a":2,"w":0.3},{"c":"Loss of balance","x":19826,"a":15,"w":2.5},{"c":"Loss of balance","x":19842,"a":6,"w":1.0},{"c":"Loss of balance","x":19859,"a":10,"w":0.4},
    {"c":"Loss of balance","x":19907,"a":10,"w":0.4},{"c":"Loss of balance","x":19932,"a":15,"w":2.0},{"c":"Loss of balance","x":19947,"a":5,"w":0.8},{"c":"Loss of balance","x":19957,"a":80,"w":9.1},{"c":"Loss of balance","x":19965,"a":2,"w":0.3},{"c":"Loss of balance","x":19979,"a":15,"w":2.5},{"c":"Loss of balance","x":19995,"a":6,"w":1.0},{"c":"Loss of balance","x":20012,"a":10,"w":0.4},
    {"c":"Loss of balance","x":20102,"a":10,"w":0.4},{"c":"Loss of balance","x":20127,"a":15,"w":2.0},{"c":"Loss of balance","x":20142,"a":5,"w":0.8},{"c":"Loss of balance","x":20152,"a":61.5,"w":9.1},{"c":"Loss of balance","x":20160,"a":2,"w":0.3},{"c":"Loss of balance","x":20174,"a":15,"w":2.4},{"c":"Loss of balance","x":20190,"a":6,"w":1.0},{"c":"Loss of balance","x":20207,"a":10,"w":0.4}
  ]},
  "vconcat": [
    {
      "width": 1150,
      "height": 234,
      "title": {"text": "Acceleration", "fontSize": 15, "fontWeight": "bold", "offset": -1, "color": "#000"},
      "layer": [
        {
          "data": {"name": "env"},
          "mark": {"type": "area", "clip": true, "opacity": 0.9},
          "encoding": {
            "x": {"field": "x", "type": "quantitative", "scale": {"domain": [0, 25000], "nice": false}, "axis": null},
            "y": {"field": "lo", "type": "quantitative", "scale": {"domain": [0, 120], "nice": false}, "axis": null},
            "y2": {"field": "hi"},
            "detail": {"field": "g", "type": "nominal"},
            "fill": {"field": "c", "type": "nominal", "legend": null,
              "scale": {"domain": ["Bending", "Hopping", "Jogging", "Lying", "Sit and stand", "Walking", "Fallforward", "Fallbackward", "Lateal fall", "Faint", "Slip", "Trip", "Loss of balance"],
                        "range": ["#0072BD", "#D95319", "#EDB120", "#7E2F8E", "#77AC30", "#4DBEEE", "#A2142F", "#0072BD", "#D95319", "#EDB120", "#7E2F8E", "#77AC30", "#4DBEEE"]}}
          }
        },
        {
          "mark": {"type": "line", "strokeWidth": 1, "clip": true},
          "encoding": {
            "x": {"field": "x", "type": "quantitative", "scale": {"domain": [0, 25000], "nice": false},
                  "axis": {"values": [0, 5000, 10000, 15000, 20000, 25000], "labelExpr": "datum.value / 10000", "labelPadding": 14, "title": "×10⁴", "titleAnchor": "end", "titleAlign": "right", "titlePadding": 4, "titleFontSize": 12, "labelFlush": false}},
            "y": {"field": "a", "type": "quantitative", "scale": {"domain": [0, 120], "nice": false},
                  "axis": {"values": [0, 20, 40, 60, 80, 100, 120], "labelPadding": 12, "title": "ms^2", "titlePadding": 10}},
            "color": {"field": "c", "type": "nominal",
              "scale": {"domain": ["Bending", "Hopping", "Jogging", "Lying", "Sit and stand", "Walking", "Fallforward", "Fallbackward", "Lateal fall", "Faint", "Slip", "Trip", "Loss of balance"],
                        "range": ["#0072BD", "#D95319", "#EDB120", "#7E2F8E", "#77AC30", "#4DBEEE", "#A2142F", "#0072BD", "#D95319", "#EDB120", "#7E2F8E", "#77AC30", "#4DBEEE"]},
              "legend": {"orient": "none", "legendX": 981, "legendY": 0, "title": null, "symbolType": "M-8,0H8", "symbolSize": 30.25, "symbolStrokeWidth": 1.2, "symbolOffset": 15.75, "symbolOpacity": 0.8, "labelOffset": 19.5, "labelFontSize": 12.5, "labelColor": "#111", "rowPadding": 4.5, "padding": 5, "strokeColor": "#333", "fillColor": "white", "cornerRadius": 0}}
          }
        },
        {
          "mark": {"type": "point", "opacity": 0},
          "encoding": {
            "x": {"field": "x", "type": "quantitative", "axis": {"orient": "top", "values": [0, 5000, 10000, 15000, 20000, 25000], "labels": false, "title": null}},
            "y": {"field": "a", "type": "quantitative", "axis": {"orient": "right", "values": [0, 20, 40, 60, 80, 100, 120], "labels": false, "title": null}}
          }
        }
      ],
      "resolve": {"axis": {"x": "independent", "y": "independent"}}
    },
    {
      "width": 1150,
      "height": 235,
      "title": {"text": "Angular Velocity", "fontSize": 15, "fontWeight": "bold", "offset": -2, "color": "#000"},
      "layer": [
        {
          "data": {"name": "env"},
          "mark": {"type": "area", "clip": true, "opacity": 0.9},
          "encoding": {
            "x": {"field": "x", "type": "quantitative", "scale": {"domain": [0, 25000], "nice": false}, "axis": null},
            "y": {"field": "wlo", "type": "quantitative", "scale": {"domain": [0, 30], "nice": false}, "axis": null},
            "y2": {"field": "whi"},
            "detail": {"field": "g", "type": "nominal"},
            "fill": {"field": "c", "type": "nominal", "legend": null,
              "scale": {"domain": ["Bending", "Hopping", "Jogging", "Lying", "Sit and stand", "Walking", "Fallforward", "Fallbackward", "Lateal fall", "Faint", "Slip", "Trip", "Loss of balance"],
                        "range": ["#0072BD", "#D95319", "#EDB120", "#7E2F8E", "#77AC30", "#4DBEEE", "#A2142F", "#0072BD", "#D95319", "#EDB120", "#7E2F8E", "#77AC30", "#4DBEEE"]}}
          }
        },
        {
          "mark": {"type": "line", "strokeWidth": 1, "clip": true},
          "encoding": {
            "x": {"field": "x", "type": "quantitative", "scale": {"domain": [0, 25000], "nice": false},
                  "axis": {"values": [0, 5000, 10000, 15000, 20000, 25000], "labelExpr": "datum.value / 10000", "labelPadding": 14, "title": "×10⁴", "titleAnchor": "end", "titleAlign": "right", "titlePadding": 4, "titleFontSize": 12, "labelFlush": false}},
            "y": {"field": "w", "type": "quantitative", "scale": {"domain": [0, 30], "nice": false},
                  "axis": {"values": [0, 5, 10, 15, 20, 25, 30], "labelPadding": 12, "title": "rad", "titlePadding": 17}},
            "color": {"field": "c", "type": "nominal",
              "scale": {"domain": ["Bending", "Hopping", "Jogging", "Lying", "Sit and stand", "Walking", "Fallforward", "Fallbackward", "Lateal fall", "Faint", "Slip", "Trip", "Loss of balance"],
                        "range": ["#0072BD", "#D95319", "#EDB120", "#7E2F8E", "#77AC30", "#4DBEEE", "#A2142F", "#0072BD", "#D95319", "#EDB120", "#7E2F8E", "#77AC30", "#4DBEEE"]},
              "legend": {"orient": "none", "legendX": 981, "legendY": 0, "title": null, "symbolType": "M-8,0H8", "symbolSize": 30.25, "symbolStrokeWidth": 1.2, "symbolOffset": 15.75, "symbolOpacity": 0.8, "labelOffset": 19.5, "labelFontSize": 12.5, "labelColor": "#111", "rowPadding": 4.5, "padding": 5, "strokeColor": "#333", "fillColor": "white", "cornerRadius": 0}}
          }
        },
        {
          "mark": {"type": "point", "opacity": 0},
          "encoding": {
            "x": {"field": "x", "type": "quantitative", "axis": {"orient": "top", "values": [0, 5000, 10000, 15000, 20000, 25000], "labels": false, "title": null}},
            "y": {"field": "w", "type": "quantitative", "axis": {"orient": "right", "values": [0, 5, 10, 15, 20, 25, 30], "labels": false, "title": null}}
          }
        }
      ],
      "resolve": {"axis": {"x": "independent", "y": "independent"}}
    }
  ],
  "resolve": {"legend": {"color": "independent"}},
  "config": {
    "font": "Liberation Sans",
    "view": {"stroke": "#404040", "strokeWidth": 1},
    "axis": {"grid": false, "domain": false, "tickColor": "#404040", "tickSize": -5, "tickWidth": 1, "labelColor": "#262626", "labelFontSize": 12.5, "labelFont": "Liberation Sans", "titleColor": "#262626", "titleFontSize": 13, "titleFontWeight": "normal", "titleFont": "Liberation Sans"},
    "legend": {"labelFont": "Liberation Sans"},
    "title": {"font": "Liberation Sans", "anchor": "middle"}
  }
}
